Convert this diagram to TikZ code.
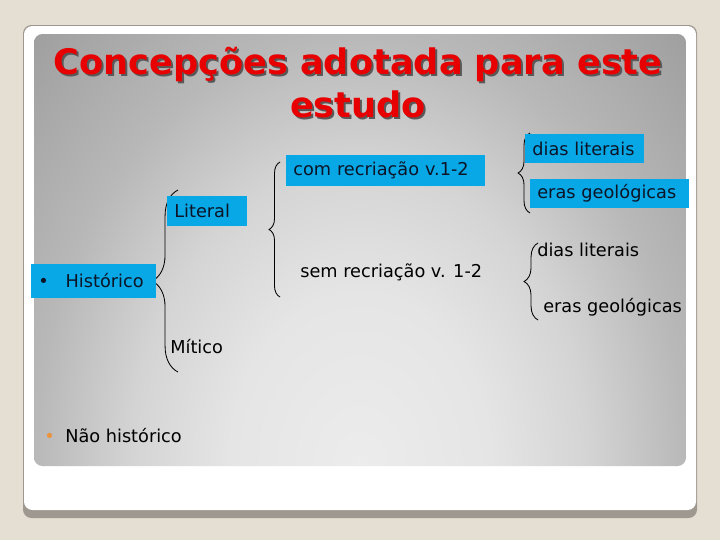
\documentclass[tikz,border=0pt]{standalone}
\usepackage{fontspec}
\setmainfont{DejaVu Sans}
\usetikzlibrary{decorations.pathreplacing}
\definecolor{bgbeige}{RGB}{228,222,211}
\definecolor{cardedge}{RGB}{158,152,144}
\definecolor{boxcyan}{RGB}{8,168,230}
\definecolor{titlered}{RGB}{232,0,0}
\definecolor{bulletorange}{RGB}{234,146,62}
\definecolor{textnavy}{RGB}{12,20,38}
\definecolor{pA}{RGB}{236,236,236}
\definecolor{pB}{RGB}{229,229,229}
\definecolor{pC}{RGB}{212,212,212}
\definecolor{pD}{RGB}{184,184,184}
\definecolor{pE}{RGB}{160,160,160}
\definecolor{pF}{RGB}{152,152,152}
\pgfdeclareradialshading{panelshade}{\pgfpoint{0bp}{0bp}}{color(0bp)=(pA); color(10bp)=(pB); color(17.5bp)=(pC); color(25bp)=(pD); color(35bp)=(pE); color(50bp)=(pF)}
\begin{document}
\begin{tikzpicture}[x=0.025cm, y=-0.025cm,
		every node/.style={font=\fontsize{12.6}{15}\selectfont, inner sep=0pt, anchor=west},
		cbox/.style={fill=boxcyan, text=textnavy, inner xsep=5pt, align=left},
		titletext/.style={anchor=center, align=center, font=\fontsize{25}{30.5}\selectfont\bfseries},
		curly/.style={draw=black, line width=0.6pt, decorate, decoration={brace, amplitude=#1}}]
		\useasboundingbox (0,0) rectangle (720,540);
		\fill[bgbeige] (0,0) rectangle (720,540);
		
		% Slide card and panel
		\fill[cardedge, rounded corners=6pt] (23,25) rectangle (697,518);
		\fill[white, rounded corners=6pt] (24,26) rectangle (696,510);
		\begin{scope}
			\clip[rounded corners=6pt] (34,34) rectangle (686,466);
			\shade[shading=panelshade] (34,34) rectangle (686,900);
		\end{scope}
		
		% Title
		\node[titletext, text=black!65] (titleshadow) at (360,85) {Concepções adotada para este\\estudo};
		\node[titletext, text=titlered] (title) at (358,83) {Concepções adotada para este\\estudo};
		
		% Brace ends
		\coordinate (H1) at (178,372);
		\coordinate (H2) at (178,190);
		\coordinate (L1) at (280,297);
		\coordinate (L2) at (280,162);
		\coordinate (C1) at (530,213);
		\coordinate (C2) at (530,133);
		\coordinate (S1) at (538,320);
		\coordinate (S2) at (538,243);
		
		% Draw braces
		\draw[curly=18.4pt] (H1) -- (H2);
		\draw[curly=7.8pt] (L1) -- (L2);
		\draw[curly=8.5pt] (C1) -- (C2);
		\draw[curly=9.9pt] (S1) -- (S2);
		
		% Draw nodes
		\node[cbox, text width=78.6pt, minimum height=24pt] (historico) at (31,281) {•\hspace{12pt}Histórico};
		\node[cbox, text width=46.7pt, minimum height=21.3pt] (literal) at (167,211) {Literal};
		\node[cbox, text width=131pt, minimum height=22pt] (comrec) at (286,170.5) {com recriação v.1-2};
		\node[cbox, text width=74.3pt, minimum height=20.6pt] (dias1) at (525,148.5) {dias literais};
		\node[cbox, text width=102.7pt, minimum height=20.6pt] (eras1) at (530,193.5) {eras geológicas};
		\node (mitico) at (170,347) {Mítico};
		\node (semrec) at (300,272) {sem recriação v. 1-2};
		\node (dias2) at (537,250) {dias literais};
		\node (eras2) at (543,307) {eras geológicas};
		\node (naohist) at (44,436) {\textcolor{bulletorange}{•}\hspace{7.5pt}Não histórico};
	\end{tikzpicture}
\end{document}
